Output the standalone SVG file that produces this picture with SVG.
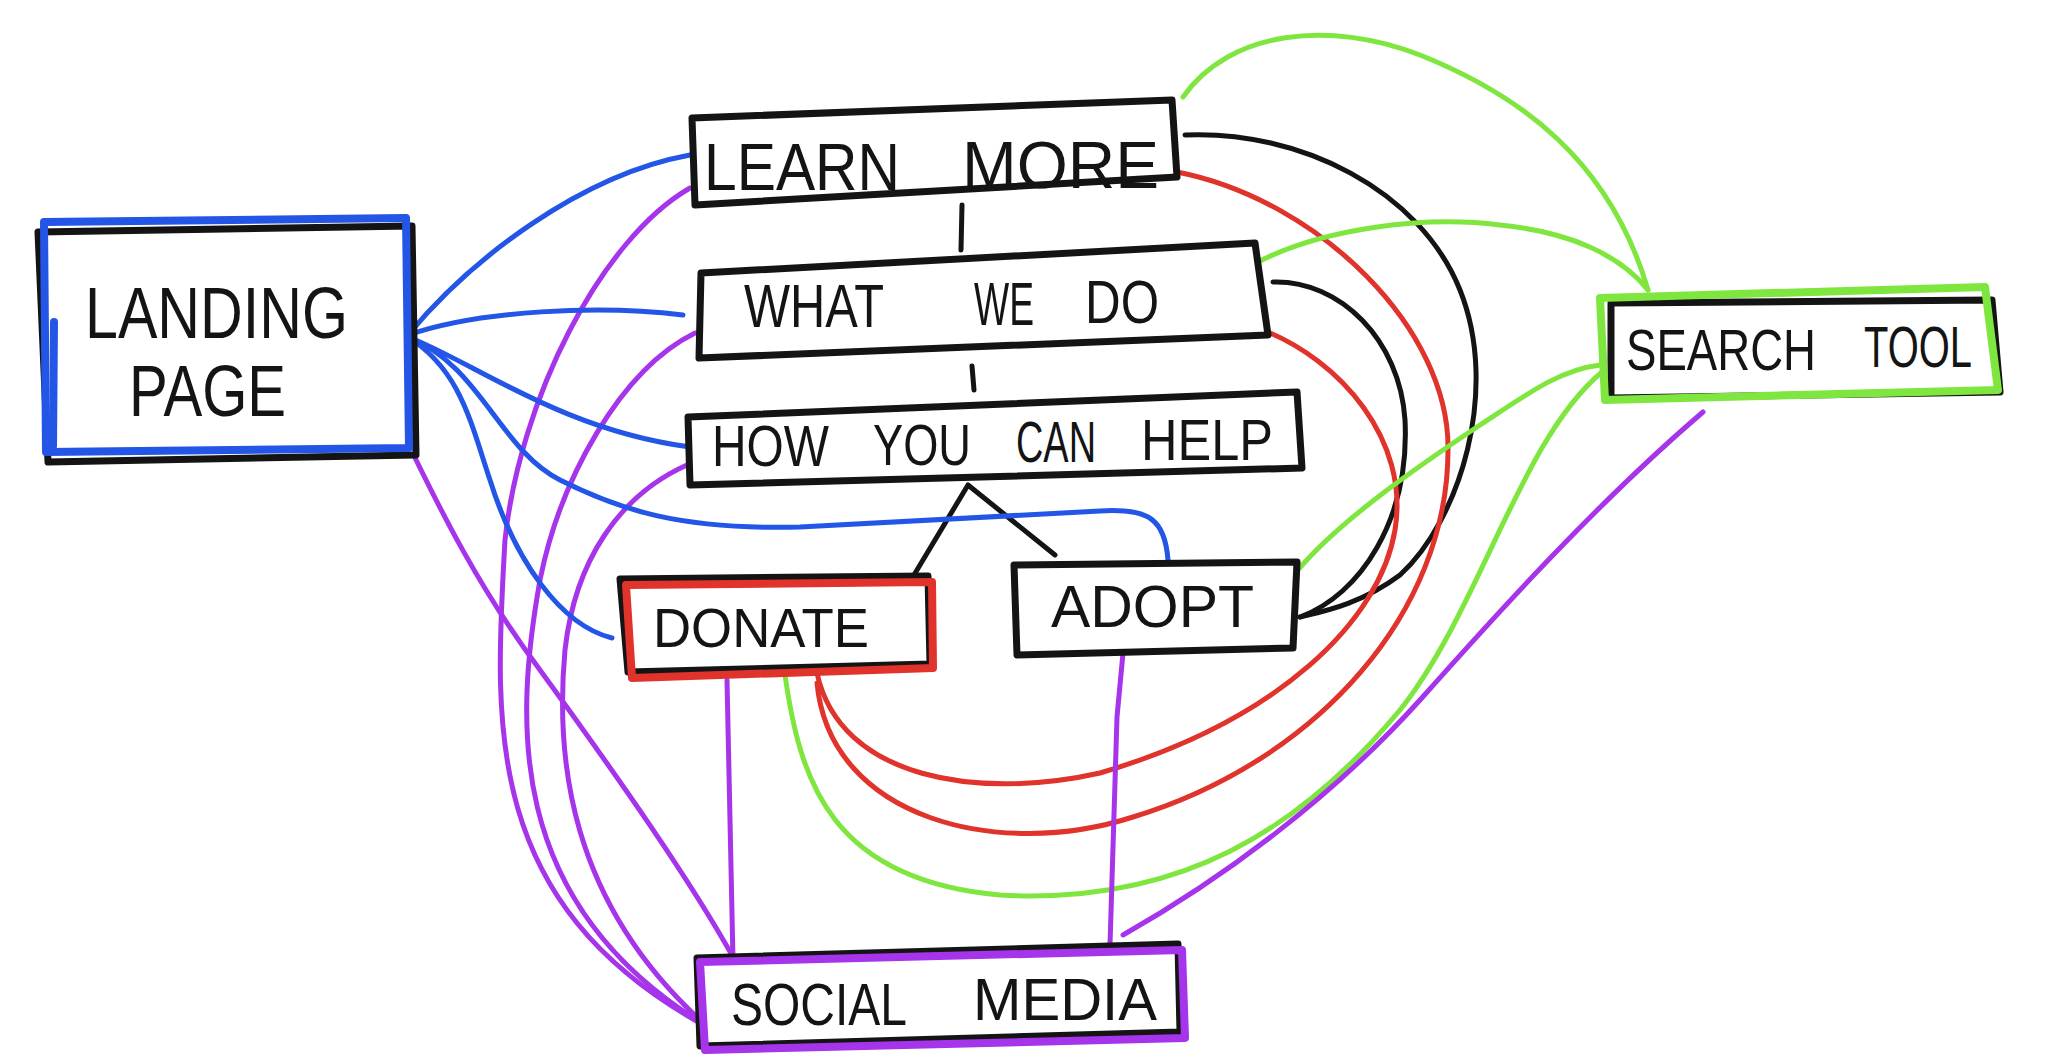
<svg xmlns="http://www.w3.org/2000/svg" width="2048" height="1063" viewBox="0 0 2048 1063">
<style>
.bg{fill:#ffffff}
.box{fill:#ffffff;stroke:#141414;stroke-width:7;stroke-linejoin:round;stroke-linecap:round}
.shadow{fill:#ffffff;stroke:#141414;stroke-width:7;stroke-linejoin:round}
.bb{fill:none;stroke:#2356e6;stroke-width:8;stroke-linejoin:round;stroke-linecap:round}
.rb{fill:none;stroke:#e0332b;stroke-width:8;stroke-linejoin:round;stroke-linecap:round}
.gb{fill:none;stroke:#7fe63f;stroke-width:8;stroke-linejoin:round;stroke-linecap:round}
.pb{fill:none;stroke:#a634ea;stroke-width:8;stroke-linejoin:round;stroke-linecap:round}
.lbl{font-family:"Liberation Sans",Arial,sans-serif;fill:#141414}
.c{fill:none;stroke-width:5;stroke-linejoin:round;stroke-linecap:round}
.k{stroke:#141414}
.r{stroke:#e0332b}
.g{stroke:#7fe63f}
.p{stroke:#a634ea}
.b{stroke:#2356e6}
</style>
<rect class="bg" x="0" y="0" width="2048" height="1063"/>

<g id="connectors">
  <!-- black -->
  <path class="c k" d="M962,205 L961,250"/>
  <path class="c k" d="M972,366 L974,390"/>
  <path class="c k" d="M914,575 L968,485 L1055,555"/>
  <path class="c k" d="M1185,135 C1300,130 1420,190 1460,290 C1500,390 1460,520 1400,575 C1360,605 1320,612 1300,617"/>
  <path class="c k" d="M1273,282 C1340,280 1400,340 1405,420 C1410,520 1360,595 1300,617"/>
  <!-- red -->
  <path class="c r" d="M1177,172 C1320,200 1450,330 1448,450 C1448,610 1320,760 1133,817 C1000,860 830,820 817,683"/>
  <path class="c r" d="M1263,330 C1340,360 1410,440 1395,530 C1380,620 1280,720 1100,773 C980,800 840,780 817,673"/>
  <!-- green -->
  <path class="c g" d="M1183,97 C1230,30 1330,20 1420,55 C1520,95 1610,160 1648,290"/>
  <path class="c g" d="M1258,262 C1320,230 1420,215 1500,225 C1570,232 1620,255 1648,290"/>
  <path class="c g" d="M1298,570 C1340,520 1420,465 1480,425 C1530,392 1560,370 1600,365"/>
  <path class="c g" d="M785,675 C800,780 830,880 1000,895 C1180,905 1300,830 1400,710 C1480,610 1520,440 1602,372"/>
  <!-- purple -->
  <path class="c p" d="M404,435 C440,510 480,590 540,670 C620,780 690,880 733,957"/>
  <path class="c p" d="M690,188 C600,240 520,400 505,540 C495,720 480,900 700,1023"/>
  <path class="c p" d="M695,333 C620,370 560,480 540,580 C515,720 505,900 700,1022"/>
  <path class="c p" d="M687,465 C620,495 575,560 565,650 C555,760 570,900 700,1020"/>
  <path class="c p" d="M727,680 L733,960"/>
  <path class="c p" d="M1123,653 L1117,717 L1110,945"/>
  <path class="c p" d="M1703,412 C1600,500 1500,610 1420,700 C1330,800 1220,880 1123,935"/>
  <!-- blue -->
  <path class="c b" d="M408,335 C470,260 580,175 690,155"/>
  <path class="c b" d="M408,335 C480,310 600,305 683,315"/>
  <path class="c b" d="M408,337 C470,360 560,430 690,447"/>
  <path class="c b" d="M408,337 C480,365 500,450 560,480 C620,510 680,530 800,527 L1100,511 C1150,508 1165,520 1168,560"/>
  <path class="c b" d="M408,337 C460,370 470,420 490,480 C515,560 560,625 612,638"/>
</g>

<g id="landing-page">
  <path class="shadow" d="M38,232 L412,226 L416,455 L48,462 Z"/>
  <path class="bb" d="M44,222 L406,218 L409,448 L46,452 Z"/>
  <path class="bb" d="M54,322 L53,446"/>
  <text class="lbl" x="85" y="338" font-size="72" textLength="263" lengthAdjust="spacingAndGlyphs">LANDING</text>
  <text class="lbl" x="129" y="416" font-size="72" textLength="157" lengthAdjust="spacingAndGlyphs">PAGE</text>
</g>

<g id="learn-more">
  <path class="box" d="M692,118 L1172,100 L1177,177 L695,205 Z"/>
  <text class="lbl" x="704" y="190" font-size="66" textLength="196" lengthAdjust="spacingAndGlyphs">LEARN</text>
  <text class="lbl" x="962" y="188" font-size="66" textLength="197" lengthAdjust="spacingAndGlyphs">MORE</text>
</g>

<g id="what-we-do">
  <path class="box" d="M701,273 L1255,243 L1268,335 L699,358 Z"/>
  <text class="lbl" x="744" y="327" font-size="62" textLength="140" lengthAdjust="spacingAndGlyphs">WHAT</text>
  <text class="lbl" x="974" y="325" font-size="62" textLength="60" lengthAdjust="spacingAndGlyphs">WE</text>
  <text class="lbl" x="1085" y="323" font-size="62" textLength="74" lengthAdjust="spacingAndGlyphs">DO</text>
</g>

<g id="how-you-can-help">
  <path class="box" d="M688,417 L1297,392 L1302,468 L690,485 Z"/>
  <text class="lbl" x="712" y="466" font-size="58" textLength="117" lengthAdjust="spacingAndGlyphs">HOW</text>
  <text class="lbl" x="873" y="465" font-size="58" textLength="98" lengthAdjust="spacingAndGlyphs">YOU</text>
  <text class="lbl" x="1016" y="462" font-size="58" textLength="80" lengthAdjust="spacingAndGlyphs">CAN</text>
  <text class="lbl" x="1141" y="460" font-size="58" textLength="132" lengthAdjust="spacingAndGlyphs">HELP</text>
</g>

<g id="donate">
  <path class="shadow" d="M620,579 L928,576 L930,664 L628,672 Z"/>
  <path class="rb" d="M626,585 L932,582 L933,668 L632,678 Z"/>
  <text class="lbl" x="653" y="647" font-size="56" textLength="216" lengthAdjust="spacingAndGlyphs">DONATE</text>
</g>

<g id="adopt">
  <path class="box" d="M1014,565 L1297,562 L1293,648 L1017,655 Z"/>
  <text class="lbl" x="1051" y="627" font-size="60" textLength="203" lengthAdjust="spacingAndGlyphs">ADOPT</text>
</g>

<g id="search-tool">
  <path class="shadow" d="M1611,303 L1992,300 L2000,392 L1611,398 Z"/>
  <path class="gb" d="M1600,298 L1985,287 L1998,390 L1605,400 Z"/>
  <text class="lbl" x="1626" y="370" font-size="57" textLength="190" lengthAdjust="spacingAndGlyphs">SEARCH</text>
  <text class="lbl" x="1864" y="367" font-size="57" textLength="108" lengthAdjust="spacingAndGlyphs">TOOL</text>
</g>

<g id="social-media">
  <path class="shadow" d="M697,958 L1178,944 L1180,1032 L700,1046 Z"/>
  <path class="pb" d="M700,962 L1182,950 L1185,1038 L705,1050 Z"/>
  <text class="lbl" x="731" y="1025" font-size="60" textLength="176" lengthAdjust="spacingAndGlyphs">SOCIAL</text>
  <text class="lbl" x="973" y="1020" font-size="60" textLength="184" lengthAdjust="spacingAndGlyphs">MEDIA</text>
</g>
</svg>
